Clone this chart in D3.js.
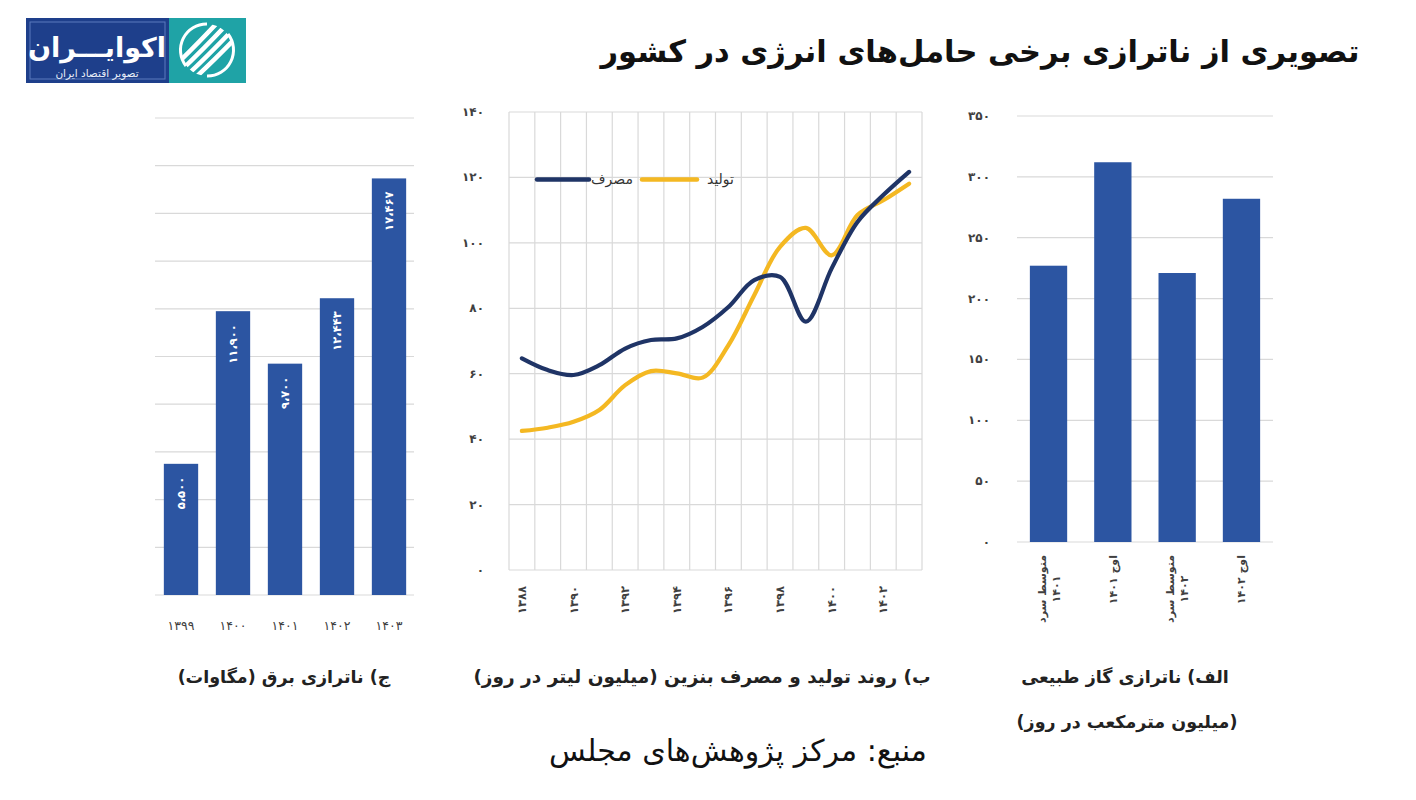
<!DOCTYPE html>
<html><head><meta charset="utf-8">
<script src="https://cdn.jsdelivr.net/npm/d3@7"></script>
<style>
html,body{margin:0;padding:0;background:#fff;}
svg{display:block;font-family:"DejaVu Sans",sans-serif;}
.rtl{direction:rtl;unicode-bidi:embed;}
</style></head>
<body>
<svg id="c" width="1416" height="800"></svg>
<script>
// ---------- DATA ----------
// Chart ج) electricity imbalance (MW)
const elecYears = [1399, 1400, 1401, 1402, 1403];
const elecValues = [5500, 11900, 9700, 12443, 17467];
const elecGridTicks = [0, 2000, 4000, 6000, 8000, 10000, 12000, 14000, 16000, 18000, 20000];

// Chart ب) gasoline production & consumption (million litres/day)
const gasYears = [1388,1389,1390,1391,1392,1393,1394,1395,1396,1397,1398,1399,1400,1401,1402,1403];
const consumption = [64.7,61.1,59.6,62.6,67.7,70.3,70.8,74.3,80.4,88.6,89.6,75.9,92.2,106.4,114.6,121.7];
const production  = [42.5,43.5,45.3,48.9,56.5,60.8,60.1,58.8,68.7,84.0,98.8,104.6,96.2,108.5,113.0,118.1];
const gasYTicks = [0,20,40,60,80,100,120,140];
const gasXTickYears = [1388,1390,1392,1394,1396,1398,1400,1402];
const seriesNames = ["مصرف", "تولید"];

// Chart الف) natural gas imbalance (million m3/day)
const ngCategories = [["متوسط سرد","۱۴۰۱"], ["اوج ۱۴۰۱"], ["متوسط سرد","۱۴۰۲"], ["اوج ۱۴۰۲"]];
const ngValues = [227, 312, 221, 282];
const ngYTicks = [0,50,100,150,200,250,300,350];

// texts
const titleText = "تصویری از ناترازی برخی حامل‌های انرژی در کشور";
const subElec = "ج) ناترازی برق (مگاوات)";
const subGas = "ب) روند تولید و مصرف بنزین (میلیون لیتر در روز)";
const subNg1 = "الف) ناترازی گاز طبیعی";
const subNg2 = "(میلیون مترمکعب در روز)";
const sourceText = "منبع: مرکز پژوهش‌های مجلس";

// ---------- helpers ----------
const faDigits = "۰۱۲۳۴۵۶۷۸۹";
const toFa = s => String(s).replace(/[0-9]/g, d => faDigits[+d]);
const faNum = v => toFa(d3.format(",")(v)).replace(/,/g, "،");

const BAR = "#2c55a2", NAVY = "#1f3466", GOLD = "#f4b822", GRID = "#d9d9d9", AX = "#404040";
const svg = d3.select("#c");

// ---------- Logo ----------
const logo = svg.append("g");
logo.append("rect").attr("x",26).attr("y",18).attr("width",143).attr("height",65).attr("fill","#1e3f8b");
logo.append("rect").attr("x",30).attr("y",22).attr("width",135).attr("height",57).attr("fill","none").attr("stroke","#5a7bbd").attr("stroke-width",1);
logo.append("rect").attr("x",169).attr("y",18).attr("width",77).attr("height",65).attr("fill","#1fa3a6");
logo.append("text").attr("class","rtl").attr("x",97).attr("y",57).attr("text-anchor","middle")
  .attr("fill","#fff").attr("font-weight","bold").attr("font-size",27).text("اکوایـــران");
logo.append("text").attr("class","rtl").attr("x",97).attr("y",77).attr("text-anchor","middle")
  .attr("fill","#e8eef8").attr("font-size",10.5).text("تصویر اقتصاد ایران");
const clip = svg.append("defs").append("clipPath").attr("id","lc");
clip.append("circle").attr("cx",207).attr("cy",50).attr("r",26);
const icon = logo.append("g").attr("clip-path","url(#lc)");
[-18,-7,4,15].forEach(o=>{
  icon.append("path").attr("d",`M${180+o} ${78} Q ${205+o} ${55} ${236+o} ${22}`)
    .attr("fill","none").attr("stroke","#fff").attr("stroke-width",4.5);
});
logo.append("path").attr("d","M 186 66 A 26 26 0 0 1 207 24").attr("fill","none").attr("stroke","#fff").attr("stroke-width",3);
logo.append("path").attr("d","M 228 34 A 26 26 0 0 1 207 76").attr("fill","none").attr("stroke","#fff").attr("stroke-width",3);

// ---------- Title ----------
svg.append("text").attr("class","rtl").attr("x",980).attr("y",62).attr("text-anchor","middle")
  .attr("font-weight","bold").attr("font-size",30.5).attr("fill","#111").text(titleText);

// ---------- Chart ج (left) ----------
{
  const x = d3.scaleBand().domain(elecYears).range([155,415]).paddingInner(0.34).paddingOuter(0.17);
  const y = d3.scaleLinear().domain([0,20000]).range([595,118]);
  const g = svg.append("g");
  g.selectAll("line.g").data(elecGridTicks).join("line")
    .attr("x1",155).attr("x2",414).attr("y1",d=>y(d)).attr("y2",d=>y(d))
    .attr("stroke",GRID).attr("stroke-width",1.2);
  g.selectAll("rect").data(elecValues).join("rect")
    .attr("x",(d,i)=>x(elecYears[i])).attr("width",x.bandwidth())
    .attr("y",d=>y(d)).attr("height",d=>y(0)-y(d)).attr("fill",BAR);
  g.selectAll("text.v").data(elecValues).join("text")
    .attr("transform",(d,i)=>`translate(${x(elecYears[i])+x.bandwidth()/2+4},${y(d)+13}) rotate(-90)`)
    .attr("text-anchor","end").attr("fill","#fff").attr("font-size",11.5).attr("font-weight","bold")
    .text(d=>faNum(d));
  g.selectAll("text.x").data(elecYears).join("text")
    .attr("x",d=>x(d)+x.bandwidth()/2).attr("y",630).attr("text-anchor","middle")
    .attr("fill",AX).attr("font-size",12.5).attr("letter-spacing",1.5).text(d=>toFa(d));
  svg.append("text").attr("class","rtl").attr("x",284).attr("y",683).attr("text-anchor","middle")
    .attr("font-weight","bold").attr("font-size",17.5).attr("fill","#222").text(subElec);
}

// ---------- Chart ب (middle) ----------
{
  const L=509, R=922, T=112, B=570;
  const xb = d3.scaleBand().domain(gasYears).range([L,R]);
  const xc = d => xb(d)+xb.bandwidth()/2;
  const y = d3.scaleLinear().domain([0,140]).range([B,T]);
  const g = svg.append("g");
  g.selectAll("line.h").data(gasYTicks).join("line")
    .attr("x1",L).attr("x2",R).attr("y1",d=>y(d)).attr("y2",d=>y(d)).attr("stroke",GRID).attr("stroke-width",1.2);
  g.selectAll("line.v").data(gasYears.concat(["end"])).join("line")
    .attr("x1",(d,i)=>L+i*xb.step()).attr("x2",(d,i)=>L+i*xb.step())
    .attr("y1",T).attr("y2",B).attr("stroke",GRID).attr("stroke-width",1.2);
  g.selectAll("text.y").data(gasYTicks).join("text")
    .attr("x",484).attr("y",d=>y(d)+4).attr("text-anchor","end").attr("fill",AX)
    .attr("font-size",12).attr("font-weight","bold").text(d=>toFa(d));
  g.selectAll("text.x").data(gasXTickYears).join("text")
    .attr("transform",d=>`translate(${xc(d)+4},${586}) rotate(-90)`)
    .attr("text-anchor","end").attr("fill",AX).attr("font-size",11.5).attr("font-weight","bold").text(d=>toFa(d));
  const line = d3.line().x((d,i)=>xc(gasYears[i])).y(d=>y(d)).curve(d3.curveCatmullRom.alpha(0.5));
  g.append("path").datum(production).attr("d",line).attr("fill","none").attr("stroke",GOLD).attr("stroke-width",4.2).attr("stroke-linecap","round");
  g.append("path").datum(consumption).attr("d",line).attr("fill","none").attr("stroke",NAVY).attr("stroke-width",4.2).attr("stroke-linecap","round");
  // legend
  const ly = y(120)+2;
  g.append("line").attr("x1",537).attr("x2",589).attr("y1",ly).attr("y2",ly).attr("stroke",NAVY).attr("stroke-width",4.5).attr("stroke-linecap","round");
  g.append("text").attr("x",633).attr("y",ly+5).attr("text-anchor","end").attr("font-size",14).attr("fill","#333").text(seriesNames[0]);
  g.append("line").attr("x1",642).attr("x2",697).attr("y1",ly).attr("y2",ly).attr("stroke",GOLD).attr("stroke-width",4.5).attr("stroke-linecap","round");
  g.append("text").attr("x",734).attr("y",ly+5).attr("text-anchor","end").attr("font-size",14).attr("fill","#333").text(seriesNames[1]);
  svg.append("text").attr("class","rtl").attr("x",702).attr("y",683).attr("text-anchor","middle")
    .attr("font-weight","bold").attr("font-size",18.5).attr("fill","#222").text(subGas);
}

// ---------- Chart الف (right) ----------
{
  const L=1017, R=1273;
  const x = d3.scaleBand().domain(d3.range(ngValues.length)).range([L,R]).paddingInner(0.42).paddingOuter(0.2);
  const y = d3.scaleLinear().domain([0,350]).range([542,116]);
  const g = svg.append("g");
  g.selectAll("line.h").data(ngYTicks).join("line")
    .attr("x1",L).attr("x2",R).attr("y1",d=>y(d)).attr("y2",d=>y(d)).attr("stroke",GRID).attr("stroke-width",1.2);
  g.selectAll("text.y").data(ngYTicks).join("text")
    .attr("x",990).attr("y",d=>y(d)+4).attr("text-anchor","end").attr("fill",AX)
    .attr("font-size",12).attr("font-weight","bold").text(d=>toFa(d));
  g.selectAll("rect").data(ngValues).join("rect")
    .attr("x",(d,i)=>x(i)).attr("width",x.bandwidth()).attr("y",d=>y(d)).attr("height",d=>y(0)-y(d)).attr("fill",BAR);
  ngCategories.forEach((lines,i)=>{
    const cx = x(i)+x.bandwidth()/2;
    const lg = g.append("g");
    const n = lines.length;
    const texts = lines.map((t,k)=> lg.append("text").attr("class","rtl")
      .attr("font-size",11).attr("font-weight","bold").attr("fill",AX).attr("text-anchor","middle").text(t));
    const maxLen = d3.max(texts, t=>t.node().getComputedTextLength());
    const top = 555;
    texts.forEach((t,k)=>{
      const off = (k-(n-1)/2)*14;
      t.attr("transform",`translate(${cx+off+4},${top+maxLen/2}) rotate(-90)`);
    });
  });
  svg.append("text").attr("class","rtl").attr("x",1125).attr("y",683).attr("text-anchor","middle")
    .attr("font-weight","bold").attr("font-size",17.5).attr("fill","#222").text(subNg1);
  svg.append("text").attr("class","rtl").attr("x",1127).attr("y",728).attr("text-anchor","middle")
    .attr("font-weight","bold").attr("font-size",17.5).attr("fill","#222").text(subNg2);
}

// ---------- Source ----------
svg.append("text").attr("class","rtl").attr("x",738).attr("y",761).attr("text-anchor","middle")
  .attr("font-size",30).attr("fill","#111").text(sourceText);
</script>
</body></html>
